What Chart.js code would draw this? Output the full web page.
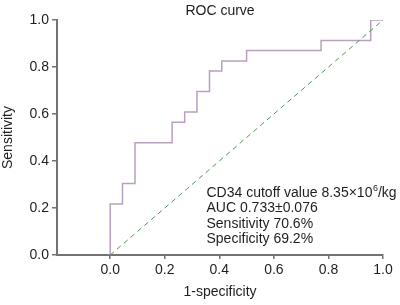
<!DOCTYPE html>
<html>
<head>
<meta charset="utf-8">
<script src="https://cdn.jsdelivr.net/npm/chart.js@4.4.1/dist/chart.umd.min.js"></script>
<style>
html,body{margin:0;padding:0;background:#fff;}
#wrap{width:400px;height:305px;position:relative;}
</style>
</head>
<body>
<div id="wrap"><canvas id="c" width="400" height="305"></canvas></div>
<script>
// ROC curve corner points (1-specificity, sensitivity)
const rocFpr = [0, 0, 0.045, 0.045, 0.091, 0.091, 0.227, 0.227, 0.273, 0.273, 0.318, 0.318, 0.364, 0.364, 0.409, 0.409, 0.5, 0.5, 0.773, 0.773, 0.955, 0.955, 1.0];
const rocTpr = [0, 0.217, 0.217, 0.304, 0.304, 0.478, 0.478, 0.565, 0.565, 0.609, 0.609, 0.696, 0.696, 0.783, 0.783, 0.826, 0.826, 0.870, 0.870, 0.913, 0.913, 1.0, 1.0];
// reference diagonal
const refX = [0, 1];
const refY = [0, 1];
const xTickValues = [0, 0.2, 0.4, 0.6, 0.8, 1.0];
const yTickValues = [0, 0.2, 0.4, 0.6, 0.8, 1.0];
const titleText = 'ROC curve';
const xTitle = '1-specificity';
const yTitle = 'Sensitivity';
const annotLines = ['CD34 cutoff value 8.35\u00d710', 'AUC 0.733\u00b10.076', 'Sensitivity 70.6%', 'Specificity 69.2%'];
const annotSup = '6';
const annotUnit = '/kg';

const FONT = '"Liberation Sans", Arial, sans-serif';
const axisColor = '#737373';
const textColor = '#1e1e1e';

const overlay = {
  id: 'overlay',
  afterDraw(chart) {
    const ctx = chart.ctx;
    const a = chart.chartArea;
    ctx.save();
    ctx.fillStyle = textColor;
    ctx.font = '14px ' + FONT;
    ctx.textAlign = 'center';
    ctx.textBaseline = 'alphabetic';
    ctx.fillText(titleText, (a.left + a.right) / 2, 15);
    ctx.textAlign = 'left';
    const x0 = 206.5;
    const baselines = [197, 212.3, 227.6, 242.8];
    annotLines.forEach((t, i) => {
      ctx.font = '14px ' + FONT;
      ctx.fillText(t, x0, baselines[i]);
      if (i === 0) {
        const w = ctx.measureText(t).width;
        ctx.font = '9px ' + FONT;
        ctx.fillText(annotSup, x0 + w + 0.5, baselines[i] - 6);
        const w2 = ctx.measureText(annotSup).width;
        ctx.font = '14px ' + FONT;
        ctx.fillText(annotUnit, x0 + w + w2 + 0.5, baselines[i]);
      }
    });
    ctx.restore();
  }
};

new Chart(document.getElementById('c'), {
  type: 'scatter',
  data: {
    datasets: [
      {
        data: refX.map((x, i) => ({x: x, y: refY[i]})),
        showLine: true,
        borderColor: '#48985a',
        borderWidth: 1,
        borderDash: [5, 4],
        pointRadius: 0,
        fill: false
      },
      {
        data: rocFpr.map((x, i) => ({x: x, y: rocTpr[i]})),
        showLine: true,
        borderColor: '#b7a1bf',
        borderWidth: 1.5,
        pointRadius: 0,
        fill: false,
        tension: 0
      }
    ]
  },
  options: {
    responsive: false,
    animation: false,
    devicePixelRatio: 1,
    layout: {padding: {left: 0, right: 17, top: 20, bottom: 0}},
    plugins: {legend: {display: false}, title: {display: false}, tooltip: {enabled: false}},
    scales: {
      x: {
        type: 'linear',
        min: -0.195,
        max: 1.0,
        afterBuildTicks: (s) => { s.ticks = xTickValues.map(v => ({value: v})); },
        afterFit: (s) => { s.height = 50; },
        ticks: {
          color: textColor,
          font: {family: FONT, size: 14},
          padding: 3,
          maxRotation: 0,
          callback: (v) => Number(v).toFixed(1)
        },
        grid: {display: true, drawOnChartArea: false, drawTicks: true, tickLength: 4, color: axisColor, lineWidth: 1.5},
        border: {display: true, color: axisColor, width: 2},
        title: {display: true, text: xTitle, color: textColor, font: {family: FONT, size: 14}, padding: {top: 0, bottom: 4}}
      },
      y: {
        type: 'linear',
        min: 0,
        max: 1.0,
        afterBuildTicks: (s) => { s.ticks = yTickValues.map(v => ({value: v})); },
        afterFit: (s) => { s.width = 57; },
        ticks: {
          color: textColor,
          font: {family: FONT, size: 14},
          padding: 3,
          callback: (v) => Number(v).toFixed(1)
        },
        grid: {display: true, drawOnChartArea: false, drawTicks: true, tickLength: 5, color: axisColor, lineWidth: 1.5},
        border: {display: true, color: axisColor, width: 2},
        title: {display: true, text: yTitle, color: textColor, font: {family: FONT, size: 14}, padding: {top: 0, bottom: 0}}
      }
    }
  },
  plugins: [overlay]
});
</script>
</body>
</html>
